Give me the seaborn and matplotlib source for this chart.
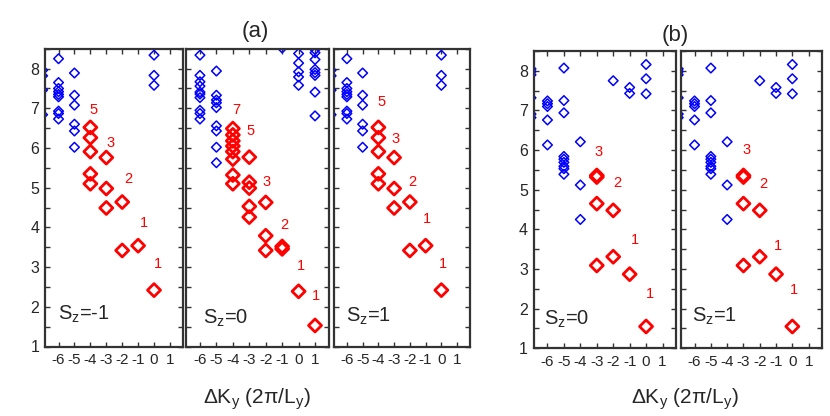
import pandas as pd
import matplotlib
matplotlib.use('Agg')
import matplotlib.pyplot as plt
import seaborn as sns
from matplotlib.ticker import MultipleLocator, NullLocator

# ---- data: dK_y (2pi/L_y) vs energy ----
# (a) S_z = -1 and S_z = 1 (same spectrum)
a_sz1_blue_k = [-7, -7, -7, -7,
                -6, -6, -6, -6, -6, -6, -6, -6, -6,
                -5, -5, -5, -5, -5, -5,
                0, 0, 0]
a_sz1_blue_e = [7.96, 7.82, 7.46, 6.84,
                8.25, 7.65, 7.50, 7.42, 7.35, 7.29, 6.93, 6.87, 6.73,
                7.89, 7.33, 7.08, 6.60, 6.43, 6.02,
                8.34, 7.83, 7.58]
a_sz1_red_k = [-4, -4, -4, -4, -4, -3, -3, -3, -2, -2, -1, 0]
a_sz1_red_e = [6.52, 6.26, 5.91, 5.35, 5.10, 5.76, 4.98, 4.49, 4.64, 3.42, 3.54, 2.42]

# (a) S_z = 0
a_sz0_blue_k = [-6, -6, -6, -6, -6, -6, -6, -6, -6, -6,
                -5, -5, -5, -5, -5, -5, -5, -5, -5,
                -1,
                0, 0, 0, 0, 0,
                1, 1, 1, 1, 1, 1, 1, 1]
a_sz0_blue_e = [8.34, 7.83, 7.67, 7.56, 7.41, 7.36, 7.27, 6.95, 6.87, 6.73,
                7.94, 7.33, 7.21, 7.14, 7.02, 6.56, 6.43, 6.02, 5.63,
                8.52,
                8.38, 8.14, 7.92, 7.79, 7.58,
                8.48, 8.40, 8.23, 7.98, 7.90, 7.83, 7.41, 6.81]
a_sz0_red_k = [-4, -4, -4, -4, -4, -4, -4, -4,
               -3, -3, -3, -3, -3,
               -2, -2, -2, -1, -1, 0, 1]
a_sz0_red_e = [6.49, 6.33, 6.18, 6.05, 5.91, 5.72, 5.32, 5.10,
               5.77, 5.14, 4.99, 4.53, 4.26,
               4.63, 3.79, 3.42, 3.52, 3.46, 2.39, 1.53]

# (b) S_z = 0 and S_z = 1 (same spectrum)
b_blue_k = [-7, -7, -7, -7, -7, -7,
            -6, -6, -6, -6, -6,
            -5, -5, -5, -5, -5, -5, -5, -5, -5,
            -4, -4, -4,
            -2, -1, -1,
            0, 0, 0]
b_blue_e = [8.05, 7.98, 7.90, 7.32, 6.91, 6.82,
            7.24, 7.17, 7.10, 6.76, 6.13,
            8.07, 7.25, 6.94, 5.84, 5.77, 5.69, 5.59, 5.53, 5.39,
            6.21, 5.12, 4.25,
            7.75, 7.58, 7.43,
            8.16, 7.80, 7.42]
b_red_k = [-3, -3, -3, -3, -2, -2, -1, 0]
b_red_e = [5.36, 5.32, 4.65, 3.09, 4.48, 3.31, 2.87, 1.55]

# degeneracy labels (text, dK, E)
labels_a_m1 = [('5', -3.83, 6.97), ('3', -2.74, 6.13), ('2', -1.59, 5.21),
               ('1', -0.64, 4.12), ('1', 0.27, 3.08)]
labels_a_0 = [('7', -3.77, 6.95), ('5', -2.90, 6.43), ('3', -1.98, 5.14),
              ('2', -0.89, 4.07), ('1', 0.13, 3.04), ('1', 1.04, 2.28)]
labels_a_p1 = [('5', -3.83, 7.15), ('3', -2.88, 6.23), ('2', -1.85, 5.14),
               ('1', -0.89, 4.22), ('1', 0.08, 3.09)]
labels_b_0 = [('3', -2.92, 5.94), ('2', -1.78, 5.18), ('1', -0.67, 3.73),
              ('1', 0.21, 2.36)]
labels_b_p1 = [('3', -2.80, 6.01), ('2', -1.79, 5.15), ('1', -0.87, 3.57),
               ('1', 0.11, 2.46)]

sz_names = ['-1', '0', '1', '0', '1']
k_ticks = [-6, -5, -4, -3, -2, -1, 0, 1]


def frame(k, e):
    return pd.DataFrame({'dK': k, 'E': e})


sns.set_style('ticks')
plt.rcParams['font.family'] = ['Liberation Sans', 'DejaVu Sans']
plt.rcParams['axes.unicode_minus'] = False
plt.rcParams['mathtext.fontset'] = 'custom'
plt.rcParams['mathtext.rm'] = 'Liberation Sans'

W, H = 830, 416
fig = plt.figure(figsize=(W / 100, H / 100), dpi=100)


def rect(l, r, t, b):
    return [l / W, 1 - b / H, (r - l) / W, (b - t) / H]


panels = [
    (rect(45, 183, 48.8, 346.5), a_sz1_blue_k, a_sz1_blue_e, a_sz1_red_k, a_sz1_red_e, labels_a_m1, True, (0.094, 0.090)),
    (rect(186, 328.5, 48.8, 346.5), a_sz0_blue_k, a_sz0_blue_e, a_sz0_red_k, a_sz0_red_e, labels_a_0, False, (0.116, 0.077)),
    (rect(333.5, 470, 48.8, 346.5), a_sz1_blue_k, a_sz1_blue_e, a_sz1_red_k, a_sz1_red_e, labels_a_p1, False, (0.088, 0.084)),
    (rect(533.5, 676, 51, 348.3), b_blue_k, b_blue_e, b_red_k, b_red_e, labels_b_0, True, (0.077, 0.081)),
    (rect(680.7, 822, 51, 348.3), b_blue_k, b_blue_e, b_red_k, b_red_e, labels_b_p1, False, (0.080, 0.091)),
]

for i, (r, bk, be, rk, re, labs, showy, szpos) in enumerate(panels):
    ax = fig.add_axes(r)
    sns.scatterplot(data=frame(bk, be), x='dK', y='E', ax=ax, marker='D', s=24,
                    color='#0000ff', facecolor='none', edgecolor='#0000ff', linewidth=1.1)
    sns.scatterplot(data=frame(rk, re), x='dK', y='E', ax=ax, marker='D', s=44,
                    color='#ff0000', facecolor='none', edgecolor='#ff0000', linewidth=2.0)
    for t, xk, ye in labs:
        ax.text(xk, ye, t, color='#ff0000', fontsize=10.5, ha='center', va='center')
    ax.text(szpos[0], szpos[1], 'S$_\\mathregular{z}$=' + sz_names[i], transform=ax.transAxes,
            fontsize=14.5, ha='left', va='baseline')
    ax.set_xlim(-6.85, 1.82)
    ax.set_ylim(1, 8.5)
    ax.set_xticks(k_ticks)
    ax.set_xticklabels([str(k) for k in k_ticks])
    ax.xaxis.set_minor_locator(NullLocator())
    ax.yaxis.set_major_locator(MultipleLocator(1))
    ax.yaxis.set_minor_locator(MultipleLocator(0.5))
    ax.tick_params(which='both', direction='in', top=True, right=True,
                   length=3.8, width=1.0, color='#333333')
    ax.tick_params(axis='x', labelsize=11, pad=5)
    ax.tick_params(axis='y', labelsize=11.5, pad=4, labelleft=showy)
    for sp in ax.spines.values():
        sp.set_linewidth(1.6)
        sp.set_color('#333333')
    ax.set_xlabel('')
    ax.set_ylabel('')

fig.text(255.5 / W, 1 - 31.7 / H, '(a)', fontsize=16, ha='center', va='center')
fig.text(675.5 / W, 1 - 36 / H, '(b)', fontsize=16, ha='center', va='center')
xlab = 'ΔK$_\\mathregular{y}$ (2π/L$_\\mathregular{y}$)'
fig.text(257 / W, 1 - 403.3 / H, xlab, fontsize=15, ha='center', va='baseline')
fig.text(685 / W, 1 - 403.3 / H, xlab, fontsize=15, ha='center', va='baseline')

fig.savefig('out.png', dpi=100)
